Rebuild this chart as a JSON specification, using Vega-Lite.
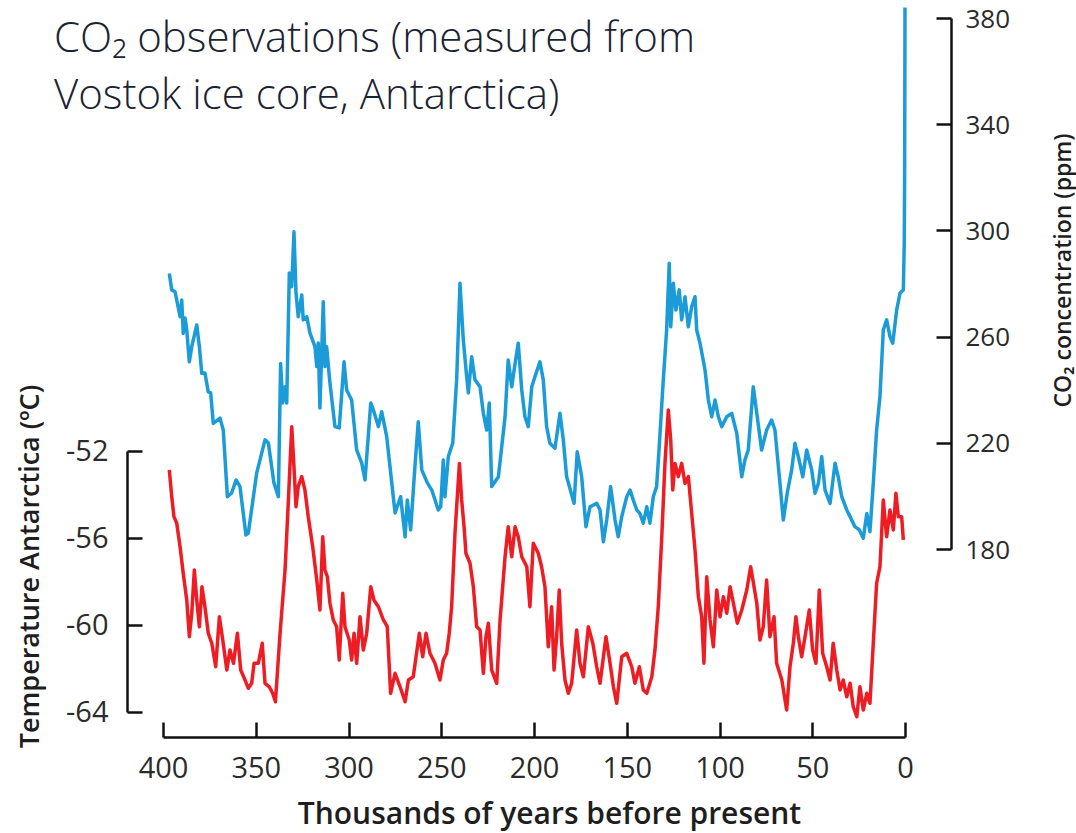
{
  "$schema": "https://vega.github.io/schema/vega-lite/v6.json",
  "autosize": {"type": "none"},
  "width": 824,
  "height": 737,
  "padding": {"left": 127, "top": 0, "right": 125, "bottom": 96},
  "background": "white",
  "title": {
    "text": ["CO₂ observations (measured from", "Vostok ice core, Antarctica)"],
    "anchor": "start",
    "frame": "group",
    "orient": "top",
    "font": "Open Sans",
    "fontWeight": 300,
    "fontSize": 42,
    "lineHeight": 57,
    "color": "#1b2333",
    "baseline": "alphabetic",
    "offset": 0,
    "dx": -73,
    "dy": 151
  },
  "config": {
    "view": {"stroke": null},
    "axis": {
      "domainColor": "#111111",
      "domainWidth": 2.5,
      "tickColor": "#111111",
      "tickWidth": 2.5,
      "tickSize": -15,
      "grid": false,
      "labelFont": "Open Sans",
      "labelFontSize": 29,
      "labelColor": "#2b2b2b",
      "labelFlush": false,
      "labelExpr": "'' + datum.value",
      "titleFont": "Open Sans",
      "titleFontWeight": 600,
      "titleColor": "#1e1e1e",
      "titleBaseline": "middle",
      "titleAlign": "center"
    }
  },
  "datasets": {
    "temp": [
      {"age":396.6,"temp":-52.87},{"age":395.3,"temp":-54.10},{"age":394.1,"temp":-55.02},{"age":392.6,"temp":-55.32},{"age":390.8,"temp":-56.40},{"age":389.1,"temp":-57.62},{"age":387.2,"temp":-58.85},{"age":385.8,"temp":-60.54},{"age":384.5,"temp":-59.46},{"age":383.1,"temp":-57.47},{"age":381.8,"temp":-58.85},{"age":380.4,"temp":-60.08},{"age":379.0,"temp":-58.24},{"age":377.4,"temp":-59.16},{"age":375.6,"temp":-60.38},{"age":373.7,"temp":-60.84},{"age":371.6,"temp":-61.92},{"age":369.6,"temp":-59.62},{"age":367.8,"temp":-60.69},{"age":365.6,"temp":-62.07},{"age":363.9,"temp":-61.15},{"age":362.0,"temp":-61.76},{"age":359.9,"temp":-60.38},{"age":358.1,"temp":-62.07},{"age":355.8,"temp":-62.53},{"age":354.0,"temp":-62.91},{"age":352.2,"temp":-62.68},{"age":350.9,"temp":-61.76},{"age":348.6,"temp":-61.76},{"age":346.5,"temp":-60.84},{"age":345.0,"temp":-62.68},{"age":342.7,"temp":-62.84},{"age":340.9,"temp":-63.14},{"age":339.4,"temp":-63.53},{"age":336.9,"temp":-60.38},{"age":334.2,"temp":-57.47},{"age":332.4,"temp":-54.25},{"age":330.6,"temp":-50.88},{"age":329.4,"temp":-52.72},{"age":328.3,"temp":-54.56},{"age":327.1,"temp":-53.64},{"age":325.2,"temp":-53.18},{"age":323.5,"temp":-53.79},{"age":321.7,"temp":-55.02},{"age":319.3,"temp":-56.40},{"age":317.1,"temp":-57.93},{"age":315.4,"temp":-59.31},{"age":313.9,"temp":-55.94},{"age":312.7,"temp":-57.47},{"age":311.4,"temp":-57.78},{"age":310.0,"temp":-59.00},{"age":308.2,"temp":-59.77},{"age":306.4,"temp":-60.08},{"age":305.0,"temp":-61.61},{"age":303.1,"temp":-58.54},{"age":301.9,"temp":-60.08},{"age":299.6,"temp":-60.69},{"age":298.3,"temp":-61.61},{"age":297.0,"temp":-60.38},{"age":295.6,"temp":-61.76},{"age":293.8,"temp":-59.62},{"age":292.0,"temp":-61.15},{"age":290.2,"temp":-60.38},{"age":288.0,"temp":-58.24},{"age":286.3,"temp":-58.85},{"age":283.9,"temp":-59.16},{"age":281.2,"temp":-59.77},{"age":279.1,"temp":-60.08},{"age":277.3,"temp":-63.14},{"age":274.9,"temp":-62.22},{"age":272.2,"temp":-62.84},{"age":269.5,"temp":-63.53},{"age":267.7,"temp":-62.53},{"age":265.1,"temp":-62.38},{"age":261.8,"temp":-60.38},{"age":260.0,"temp":-61.46},{"age":258.2,"temp":-60.38},{"age":256.1,"temp":-61.30},{"age":253.4,"temp":-61.76},{"age":250.7,"temp":-62.53},{"age":248.9,"temp":-61.61},{"age":247.1,"temp":-61.30},{"age":245.7,"temp":-60.38},{"age":244.4,"temp":-59.16},{"age":242.6,"temp":-55.78},{"age":240.2,"temp":-52.57},{"age":239.0,"temp":-54.25},{"age":237.7,"temp":-55.48},{"age":236.7,"temp":-56.70},{"age":234.5,"temp":-57.16},{"age":232.7,"temp":-58.24},{"age":230.9,"temp":-60.08},{"age":229.1,"temp":-60.23},{"age":227.3,"temp":-62.22},{"age":225.9,"temp":-60.54},{"age":224.6,"temp":-59.92},{"age":222.8,"temp":-62.07},{"age":220.1,"temp":-62.68},{"age":218.3,"temp":-59.77},{"age":215.6,"temp":-56.86},{"age":213.9,"temp":-55.48},{"age":212.0,"temp":-56.86},{"age":210.2,"temp":-55.48},{"age":208.5,"temp":-55.94},{"age":206.6,"temp":-56.86},{"age":203.9,"temp":-57.32},{"age":202.2,"temp":-59.16},{"age":200.4,"temp":-56.24},{"age":197.7,"temp":-56.70},{"age":195.9,"temp":-57.32},{"age":194.1,"temp":-58.24},{"age":192.3,"temp":-61.00},{"age":190.5,"temp":-59.16},{"age":189.2,"temp":-62.07},{"age":187.8,"temp":-60.54},{"age":186.4,"temp":-58.39},{"age":185.1,"temp":-60.84},{"age":183.3,"temp":-62.53},{"age":181.5,"temp":-63.14},{"age":179.7,"temp":-62.68},{"age":177.0,"temp":-60.23},{"age":175.2,"temp":-61.76},{"age":173.4,"temp":-62.38},{"age":170.7,"temp":-60.08},{"age":168.3,"temp":-60.84},{"age":166.2,"temp":-61.92},{"age":164.4,"temp":-62.68},{"age":161.2,"temp":-60.54},{"age":159.0,"temp":-61.76},{"age":157.2,"temp":-62.84},{"age":155.4,"temp":-63.60},{"age":152.7,"temp":-61.46},{"age":150.0,"temp":-61.30},{"age":147.3,"temp":-61.92},{"age":145.6,"temp":-62.68},{"age":143.2,"temp":-61.92},{"age":141.1,"temp":-62.99},{"age":139.2,"temp":-63.14},{"age":136.5,"temp":-62.38},{"age":134.8,"temp":-61.15},{"age":133.0,"temp":-59.16},{"age":131.2,"temp":-56.09},{"age":129.4,"temp":-52.57},{"age":127.6,"temp":-50.11},{"age":126.3,"temp":-51.49},{"age":125.2,"temp":-53.79},{"age":124.0,"temp":-52.57},{"age":122.2,"temp":-53.18},{"age":120.4,"temp":-52.57},{"age":118.6,"temp":-53.49},{"age":116.8,"temp":-53.18},{"age":115.0,"temp":-54.86},{"age":113.2,"temp":-56.55},{"age":111.4,"temp":-58.70},{"age":109.6,"temp":-59.62},{"age":108.4,"temp":-61.76},{"age":106.9,"temp":-57.78},{"age":105.1,"temp":-59.77},{"age":103.3,"temp":-61.00},{"age":101.5,"temp":-58.39},{"age":99.7,"temp":-59.62},{"age":97.9,"temp":-58.70},{"age":96.1,"temp":-59.46},{"age":94.3,"temp":-58.24},{"age":92.5,"temp":-59.00},{"age":90.4,"temp":-59.92},{"age":88.0,"temp":-59.31},{"age":85.3,"temp":-58.39},{"age":83.2,"temp":-57.32},{"age":81.7,"temp":-58.08},{"age":79.9,"temp":-59.00},{"age":78.2,"temp":-60.69},{"age":76.4,"temp":-60.08},{"age":74.6,"temp":-57.93},{"age":72.8,"temp":-60.54},{"age":70.6,"temp":-59.62},{"age":69.2,"temp":-61.76},{"age":66.4,"temp":-62.53},{"age":63.8,"temp":-63.91},{"age":62.0,"temp":-61.92},{"age":60.2,"temp":-60.84},{"age":58.8,"temp":-59.62},{"age":57.5,"temp":-60.54},{"age":55.7,"temp":-61.46},{"age":53.9,"temp":-60.54},{"age":51.6,"temp":-59.31},{"age":49.8,"temp":-61.15},{"age":48.0,"temp":-61.76},{"age":46.2,"temp":-58.39},{"age":44.4,"temp":-61.30},{"age":42.2,"temp":-61.92},{"age":40.4,"temp":-62.53},{"age":38.7,"temp":-60.84},{"age":36.8,"temp":-62.07},{"age":35.0,"temp":-62.99},{"age":33.3,"temp":-62.53},{"age":31.4,"temp":-63.30},{"age":29.6,"temp":-62.68},{"age":27.9,"temp":-63.76},{"age":26.0,"temp":-64.22},{"age":24.3,"temp":-62.84},{"age":22.5,"temp":-63.91},{"age":20.6,"temp":-63.14},{"age":18.9,"temp":-63.60},{"age":17.1,"temp":-60.84},{"age":15.3,"temp":-58.08},{"age":13.5,"temp":-57.32},{"age":11.7,"temp":-54.25},{"age":9.9,"temp":-55.94},{"age":8.1,"temp":-54.71},{"age":6.3,"temp":-55.63},{"age":4.9,"temp":-53.94},{"age":3.6,"temp":-55.02},{"age":1.8,"temp":-55.02},{"age":0.9,"temp":-56.09}
    ],
    "co2": [
      {"age":396.6,"co2":283.8},{"age":395.3,"co2":277.6},{"age":393.5,"co2":276.9},{"age":390.8,"co2":267.5},{"age":389.9,"co2":273.8},{"age":389.1,"co2":261.2},{"age":388.1,"co2":267.0},{"age":387.2,"co2":262.5},{"age":385.8,"co2":250.5},{"age":384.5,"co2":256.2},{"age":381.8,"co2":264.4},{"age":380.4,"co2":256.2},{"age":379.1,"co2":246.2},{"age":377.4,"co2":246.3},{"age":375.6,"co2":239.2},{"age":374.3,"co2":238.8},{"age":372.9,"co2":227.3},{"age":369.3,"co2":229.3},{"age":367.5,"co2":224.8},{"age":365.3,"co2":199.7},{"age":363.0,"co2":201.1},{"age":360.6,"co2":206.0},{"age":358.5,"co2":203.5},{"age":355.3,"co2":185.3},{"age":354.0,"co2":186.0},{"age":349.5,"co2":208.6},{"age":345.0,"co2":221.1},{"age":343.2,"co2":219.9},{"age":340.2,"co2":204.9},{"age":337.8,"co2":199.7},{"age":336.6,"co2":249.9},{"age":335.5,"co2":235.0},{"age":334.2,"co2":241.1},{"age":333.3,"co2":235.0},{"age":331.9,"co2":284.0},{"age":330.6,"co2":278.8},{"age":329.4,"co2":299.5},{"age":328.3,"co2":276.4},{"age":327.1,"co2":267.5},{"age":325.2,"co2":275.7},{"age":324.4,"co2":266.3},{"age":322.5,"co2":267.5},{"age":320.8,"co2":261.4},{"age":318.1,"co2":256.2},{"age":317.1,"co2":248.7},{"age":316.3,"co2":257.6},{"age":315.4,"co2":233.1},{"age":313.6,"co2":273.1},{"age":312.7,"co2":248.7},{"age":311.8,"co2":256.2},{"age":310.0,"co2":242.5},{"age":307.3,"co2":226.1},{"age":305.0,"co2":225.6},{"age":302.4,"co2":250.5},{"age":301.0,"co2":239.9},{"age":298.3,"co2":236.1},{"age":295.6,"co2":217.3},{"age":292.9,"co2":212.4},{"age":291.1,"co2":206.0},{"age":288.0,"co2":235.0},{"age":286.6,"co2":232.4},{"age":283.9,"co2":226.1},{"age":282.1,"co2":231.7},{"age":279.4,"co2":222.3},{"age":274.9,"co2":193.6},{"age":271.9,"co2":199.7},{"age":269.5,"co2":184.6},{"age":268.3,"co2":198.5},{"age":266.5,"co2":187.2},{"age":264.2,"co2":211.0},{"age":262.4,"co2":227.9},{"age":260.5,"co2":209.8},{"age":257.5,"co2":204.9},{"age":255.1,"co2":202.2},{"age":251.6,"co2":194.7},{"age":250.3,"co2":195.9},{"age":248.9,"co2":213.5},{"age":248.0,"co2":199.7},{"age":246.2,"co2":214.8},{"age":243.8,"co2":219.9},{"age":241.7,"co2":243.7},{"age":239.9,"co2":280.1},{"age":238.1,"co2":258.7},{"age":236.3,"co2":244.9},{"age":235.4,"co2":238.8},{"age":233.6,"co2":252.4},{"age":231.8,"co2":243.7},{"age":229.1,"co2":241.1},{"age":227.3,"co2":231.1},{"age":225.5,"co2":224.8},{"age":224.1,"co2":235.0},{"age":222.8,"co2":203.5},{"age":219.2,"co2":207.2},{"age":215.6,"co2":229.8},{"age":213.9,"co2":251.2},{"age":212.0,"co2":241.1},{"age":210.2,"co2":249.9},{"age":208.5,"co2":257.5},{"age":206.6,"co2":239.9},{"age":204.9,"co2":229.8},{"age":203.1,"co2":226.1},{"age":201.2,"co2":241.1},{"age":199.5,"co2":244.9},{"age":196.8,"co2":250.5},{"age":195.0,"co2":243.7},{"age":193.2,"co2":226.1},{"age":191.4,"co2":219.8},{"age":188.7,"co2":217.9},{"age":186.0,"co2":231.1},{"age":184.2,"co2":221.1},{"age":182.4,"co2":207.2},{"age":178.4,"co2":197.2},{"age":176.7,"co2":216.6},{"age":174.3,"co2":207.2},{"age":172.0,"co2":188.4},{"age":169.8,"co2":195.9},{"age":166.2,"co2":197.2},{"age":164.4,"co2":194.7},{"age":162.6,"co2":182.7},{"age":160.8,"co2":190.9},{"age":158.7,"co2":203.5},{"age":156.3,"co2":190.9},{"age":154.6,"co2":184.6},{"age":152.7,"co2":192.2},{"age":150.0,"co2":199.7},{"age":148.2,"co2":202.2},{"age":146.5,"co2":198.5},{"age":144.6,"co2":194.7},{"age":142.9,"co2":193.4},{"age":141.1,"co2":189.7},{"age":139.2,"co2":195.9},{"age":137.5,"co2":189.7},{"age":135.7,"co2":199.7},{"age":133.9,"co2":203.5},{"age":132.5,"co2":218.5},{"age":130.3,"co2":243.7},{"age":128.5,"co2":262.5},{"age":127.1,"co2":287.6},{"age":126.3,"co2":263.7},{"age":124.9,"co2":280.1},{"age":123.5,"co2":270.0},{"age":121.7,"co2":277.6},{"age":120.4,"co2":266.3},{"age":118.6,"co2":275.0},{"age":116.8,"co2":263.7},{"age":115.0,"co2":271.3},{"age":113.2,"co2":275.0},{"age":112.3,"co2":262.5},{"age":110.5,"co2":257.5},{"age":107.8,"co2":247.4},{"age":106.0,"co2":236.1},{"age":104.2,"co2":229.8},{"age":102.4,"co2":236.1},{"age":100.6,"co2":229.8},{"age":98.8,"co2":226.1},{"age":96.1,"co2":229.8},{"age":93.4,"co2":231.1},{"age":90.7,"co2":223.6},{"age":88.0,"co2":207.2},{"age":86.3,"co2":213.5},{"age":84.5,"co2":217.3},{"age":81.8,"co2":241.1},{"age":79.9,"co2":231.1},{"age":77.3,"co2":217.3},{"age":74.6,"co2":224.8},{"age":71.9,"co2":228.6},{"age":70.1,"co2":224.8},{"age":67.4,"co2":204.7},{"age":65.6,"co2":190.9},{"age":63.5,"co2":201.0},{"age":61.1,"co2":209.8},{"age":59.3,"co2":219.8},{"age":57.5,"co2":214.8},{"age":55.1,"co2":207.2},{"age":53.0,"co2":217.3},{"age":50.3,"co2":209.8},{"age":48.5,"co2":201.0},{"age":46.7,"co2":204.7},{"age":44.9,"co2":214.8},{"age":43.1,"co2":202.2},{"age":40.4,"co2":197.2},{"age":37.7,"co2":212.3},{"age":36.0,"co2":207.2},{"age":34.1,"co2":199.7},{"age":31.4,"co2":194.7},{"age":29.6,"co2":192.2},{"age":27.0,"co2":188.4},{"age":24.6,"co2":187.2},{"age":22.5,"co2":184.0},{"age":20.6,"co2":193.4},{"age":18.9,"co2":186.5},{"age":17.1,"co2":204.7},{"age":15.3,"co2":224.8},{"age":13.5,"co2":237.4},{"age":11.7,"co2":262.5},{"age":9.9,"co2":266.3},{"age":8.1,"co2":260.0},{"age":6.6,"co2":257.5},{"age":4.5,"co2":270.0},{"age":2.7,"co2":276.3},{"age":0.9,"co2":277.6},{"age":0.4,"co2":295.0},{"age":0.2,"co2":320.0},{"age":0.1,"co2":350.0},{"age":0.0,"co2":384.0}
    ]
  },
  "layer": [
    {
      "data": {"name": "temp"},
      "mark": {"type": "line", "color": "#ee1d23", "strokeWidth": 3.5, "strokeJoin": "round", "clip": false},
      "encoding": {
        "x": {
          "field": "age", "type": "quantitative",
          "scale": {"domain": [400, 0], "range": [36, 778], "nice": false, "zero": false},
          "axis": {
            "title": "Thousands of years before present",
            "values": [400, 350, 300, 250, 200, 150, 100, 50, 0],
            "labelPadding": 32,
            "titleFontSize": 30,
            "titleX": 422,
            "titleY": 77
          }
        },
        "y": {
          "field": "temp", "type": "quantitative",
          "scale": {"domain": [-64, -52], "range": [712, 451], "nice": false, "zero": false},
          "axis": {
            "orient": "left",
            "title": "Temperature Antarctica (ºC)",
            "values": [-52, -56, -60, -64],
            "labelPadding": 34,
            "titleFontSize": 27,
            "titleAngle": 270,
            "titleX": -97,
            "titleY": 566
          }
        }
      }
    },
    {
      "data": {"name": "co2"},
      "mark": {"type": "line", "color": "#1b9bd7", "strokeWidth": 3.5, "strokeJoin": "round", "clip": false},
      "encoding": {
        "x": {
          "field": "age", "type": "quantitative",
          "scale": {"domain": [400, 0], "range": [36, 778], "nice": false, "zero": false},
          "axis": {
            "title": "Thousands of years before present",
            "values": [400, 350, 300, 250, 200, 150, 100, 50, 0],
            "labelPadding": 32,
            "titleFontSize": 30,
            "titleX": 422,
            "titleY": 77
          }
        },
        "y": {
          "field": "co2", "type": "quantitative",
          "scale": {"domain": [180, 380], "range": [549, 18], "nice": false, "zero": false},
          "axis": {
            "orient": "right",
            "title": "CO₂ concentration (ppm)",
            "values": [180, 220, 260, 300, 340, 380],
            "labelPadding": 29,
            "labelFontSize": 26,
            "labelOffset": 1,
            "titleFontSize": 23,
            "titleAngle": 270,
            "titleX": 112,
            "titleY": 270
          }
        }
      }
    }
  ],
  "resolve": {"scale": {"y": "independent"}, "axis": {"y": "independent"}}
}
